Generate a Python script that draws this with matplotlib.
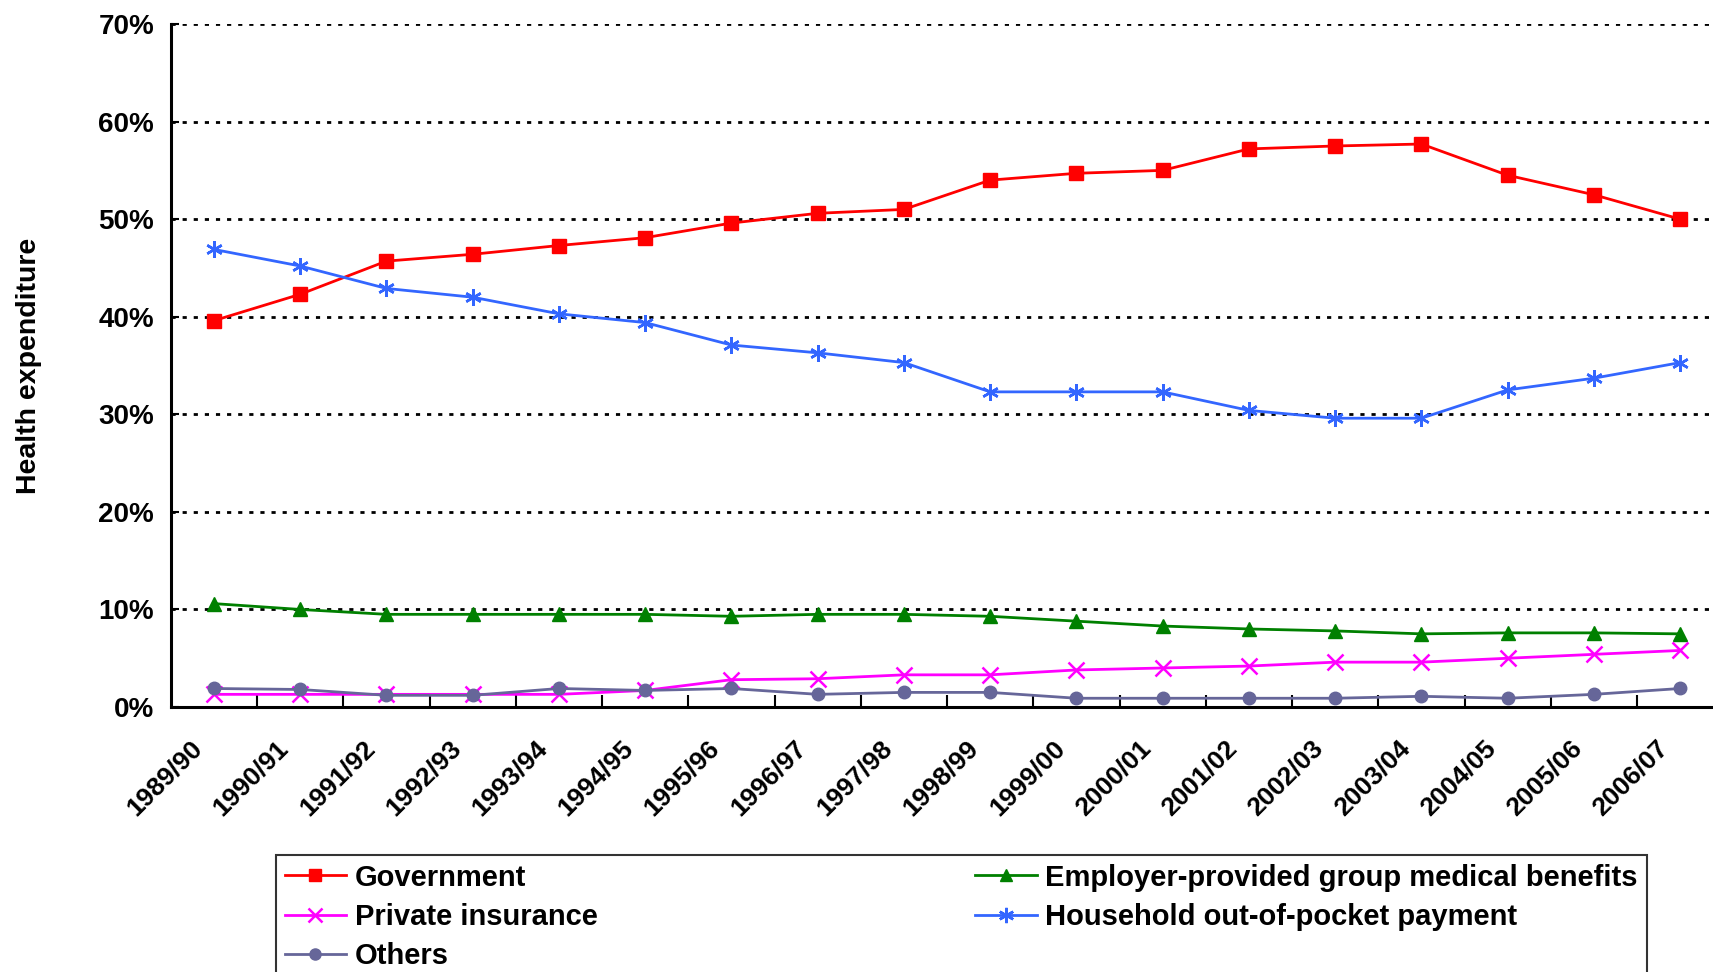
import numpy as np
import matplotlib.pyplot as plt
import matplotlib.transforms as mtransforms
from matplotlib.lines import Line2D

plt.rcParams['font.family'] = ['Liberation Sans', 'DejaVu Sans']
plt.rcParams['font.weight'] = 'bold'

# ---------------------------------------------------------------
# Data (share of total health expenditure, %)
# ---------------------------------------------------------------
years = ['1989/90', '1990/91', '1991/92', '1992/93', '1993/94', '1994/95',
         '1995/96', '1996/97', '1997/98', '1998/99', '1999/00', '2000/01',
         '2001/02', '2002/03', '2003/04', '2004/05', '2005/06', '2006/07']

government = [39.6, 42.3, 45.7, 46.4, 47.3, 48.1, 49.6, 50.6, 51.0,
              54.0, 54.7, 55.0, 57.2, 57.5, 57.7, 54.5, 52.5, 50.0]
household = [46.9, 45.2, 42.9, 42.0, 40.3, 39.4, 37.1, 36.3, 35.3,
             32.3, 32.3, 32.3, 30.4, 29.6, 29.6, 32.5, 33.7, 35.3]
employer = [10.6, 10.0, 9.5, 9.5, 9.5, 9.5, 9.3, 9.5, 9.5,
            9.3, 8.8, 8.3, 8.0, 7.8, 7.5, 7.6, 7.6, 7.5]
private = [1.3, 1.3, 1.3, 1.3, 1.3, 1.7, 2.8, 2.9, 3.3,
           3.3, 3.8, 4.0, 4.2, 4.6, 4.6, 5.0, 5.4, 5.8]
others = [1.9, 1.8, 1.2, 1.2, 1.9, 1.7, 1.9, 1.3, 1.5,
          1.5, 0.9, 0.9, 0.9, 0.9, 1.1, 0.9, 1.3, 1.9]

x = np.arange(len(years))

# ---------------------------------------------------------------
# Figure
# ---------------------------------------------------------------
fig = plt.figure(figsize=(17.13, 9.72), dpi=100)
ax = fig.add_axes([0.0997, 0.2726, 0.9063, 0.7027])

ax.plot(x, government, color='#FF0000', marker='s', markersize=10, lw=2, zorder=5)
ax.plot(x, employer, color='#008000', marker='^', markersize=10, lw=2, zorder=5)
ax.plot(x, private, color='#FF00FF', marker='x', markersize=11, mew=1.8, lw=2, zorder=5)
ax.plot(x, household, color='#3366FF', marker=(6, 2, 0), markersize=12, mew=1.8, lw=2, zorder=5)
ax.plot(x, others, color='#666699', marker='o', markersize=9, lw=2, zorder=5)

ax.set_xlim(-0.5, 17.5)
ax.set_ylim(0, 70)

ax.set_yticks(np.arange(0, 71, 10))
ax.set_yticklabels([f'{v}%' for v in range(0, 71, 10)], fontsize=20, fontweight='bold')
ax.yaxis.grid(True, color='black', linestyle=(0, (1.5, 2.5)), linewidth=2)
ax.set_axisbelow(True)

ax.set_xticks(x)
ax.set_xticklabels(years, rotation=45, ha='right', va='top', rotation_mode='anchor',
                   fontsize=19, fontweight='bold')
ax.tick_params(axis='x', which='major', length=0, pad=14)
ax.set_xticks(x[:-1] + 0.5, minor=True)
ax.tick_params(axis='x', which='minor', direction='in', length=9, width=1.5)
ax.tick_params(axis='y', direction='in', length=6, width=1.5, pad=12)

# shift the slanted year labels a little left and down
offset = mtransforms.ScaledTranslation(-0.24, -0.09, fig.dpi_scale_trans)
for lbl in ax.get_xticklabels():
    lbl.set_transform(lbl.get_transform() + offset)

for side in ['top', 'right']:
    ax.spines[side].set_visible(False)
for side in ['left', 'bottom']:
    ax.spines[side].set_linewidth(2.2)

ax.set_ylabel('Health expenditure', fontsize=20.5, fontweight='bold')
ax.yaxis.set_label_coords(-0.083, 0.5)

handles = [
    Line2D([], [], color='#FF0000', marker='s', markersize=9, lw=2),
    Line2D([], [], color='#FF00FF', marker='x', markersize=10, mew=1.8, lw=2),
    Line2D([], [], color='#666699', marker='o', markersize=8, lw=2),
    Line2D([], [], color='#008000', marker='^', markersize=9, lw=2),
    Line2D([], [], color='#3366FF', marker=(6, 2, 0), markersize=11, mew=1.8, lw=2),
]
labels = ['Government', 'Private insurance', 'Others',
          'Employer-provided group medical benefits', 'Household out-of-pocket payment']
leg = fig.legend(handles, labels, ncol=2, loc='upper left',
                 bbox_to_anchor=(0.1526, 0.1355), bbox_transform=fig.transFigure,
                 prop={'size': 21, 'weight': 'bold'}, frameon=True, fancybox=False,
                 edgecolor='black', handlelength=2.1, handletextpad=0.3,
                 columnspacing=12.95, labelspacing=0.38, borderpad=0.3)
leg.get_frame().set_linewidth(1.5)

fig.savefig('out.png', dpi=100)
